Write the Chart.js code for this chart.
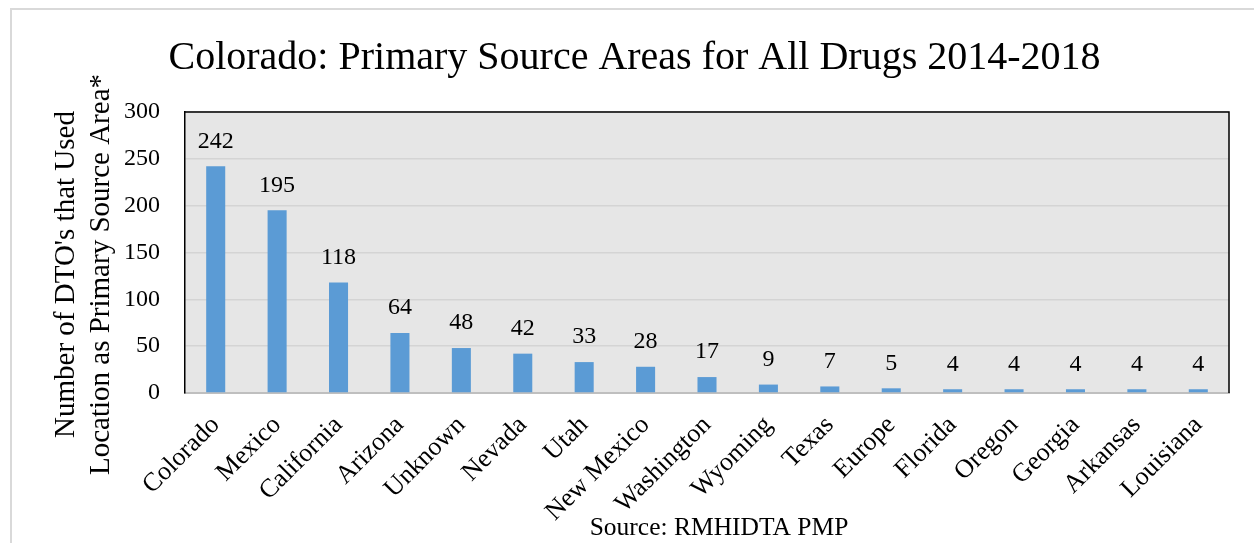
<!DOCTYPE html>
<html><head><meta charset="utf-8">
<script src="https://cdn.jsdelivr.net/npm/chart.js@4/dist/chart.umd.min.js"></script>
<style>
html,body{margin:0;padding:0;background:#fff;overflow:hidden;width:1254px;height:543px}
#frame{position:absolute;left:10px;top:8px;width:1400px;height:700px;border:2px solid #d9d9d9;box-sizing:border-box}
#wrap{position:absolute;left:0;top:0;width:1254px;height:543px}
</style></head><body>
<div id="frame"></div>
<div id="wrap"><canvas id="c"></canvas></div>
<script>
const categories = ["Colorado","Mexico","California","Arizona","Unknown","Nevada","Utah","New Mexico","Washington","Wyoming","Texas","Europe","Florida","Oregon","Georgia","Arkansas","Louisiana"];
const values = [242,195,118,64,48,42,33,28,17,9,7,5,4,4,4,4,4];
const yMin = 0, yMax = 300, yStep = 50;
const chartTitle = "Colorado: Primary Source Areas for All Drugs 2014-2018";
const yTitleLines = ["Number of DTO's that Used","Location as Primary Source Area*"];
const sourceNote = "Source: RMHIDTA PMP";

const SERIF = "'Liberation Serif', 'Times New Roman', serif";

const plotFrame = {
  id: 'plotFrame',
  beforeDraw(chart){
    const {ctx, chartArea:a} = chart;
    ctx.save();
    ctx.fillStyle = '#e6e6e6';
    ctx.fillRect(a.left, a.top, a.right - a.left, a.bottom - a.top);
    ctx.restore();
  },
  afterDraw(chart){
    const {ctx, chartArea:a} = chart;
    ctx.save();
    ctx.strokeStyle = '#000';
    ctx.lineWidth = 1.5;
    ctx.beginPath();
    ctx.moveTo(a.left, a.top);
    ctx.lineTo(a.right, a.top);
    ctx.lineTo(a.right, a.bottom);
    ctx.stroke();
    // y axis title (two lines)
    ctx.fillStyle = '#000';
    ctx.font = "29px " + SERIF;
    ctx.textAlign = 'center';
    ctx.textBaseline = 'middle';
    const cy = (a.top + a.bottom) / 2 + 22;
    [66, 101].forEach((x, i) => {
      ctx.save();
      ctx.translate(x, cy);
      ctx.rotate(-Math.PI / 2);
      ctx.fillText(yTitleLines[i], 0, 0);
      ctx.restore();
    });
    // source note
    ctx.font = "25.5px " + SERIF;
    ctx.textAlign = 'center';
    ctx.fillText(sourceNote, 719, 528);
    ctx.restore();
  }
};

const valueLabels = {
  id: 'valueLabels',
  afterDatasetsDraw(chart){
    const {ctx} = chart;
    const meta = chart.getDatasetMeta(0);
    ctx.save();
    ctx.fillStyle = '#000';
    ctx.font = "24px " + SERIF;
    ctx.textAlign = 'center';
    ctx.textBaseline = 'middle';
    meta.data.forEach((el, i) => {
      ctx.fillText(String(chart.data.datasets[0].data[i]), el.x, el.y - 25);
    });
    ctx.restore();
  }
};

new Chart(document.getElementById('c'), {
  type: 'bar',
  data: {
    labels: categories,
    datasets: [{
      data: values,
      backgroundColor: '#5b9bd5',
      borderWidth: 0,
      barPercentage: 0.31,
      categoryPercentage: 1
    }]
  },
  options: {
    responsive: true,
    maintainAspectRatio: false,
    animation: false,
    devicePixelRatio: 1,
    layout: { padding: { left: 40, right: 25, top: 0, bottom: 2 } },
    plugins: {
      legend: { display: false },
      tooltip: { enabled: false },
      title: {
        display: true,
        text: chartTitle,
        color: '#000',
        font: { family: SERIF, size: 40, weight: 'normal' },
        padding: { top: 34, bottom: 30 }
      }
    },
    scales: {
      x: {
        grid: { display: false, drawTicks: false },
        border: { display: true, color: '#bfbfbf', width: 2 },
        ticks: {
          color: '#000',
          font: { family: SERIF, size: 26 },
          minRotation: 45, maxRotation: 45,
          padding: 17,
          autoSkip: false
        },
        afterFit(s){ s.height = 148; }
      },
      y: {
        min: yMin, max: yMax,
        ticks: {
          stepSize: yStep,
          color: '#000',
          font: { family: SERIF, size: 24 },
          padding: 25
        },
        grid: { color: '#d4d4d4', lineWidth: 1.5, drawTicks: false },
        border: { display: true, color: '#000', width: 1.5 },
        afterFit(s){ s.width = 145; }
      }
    }
  },
  plugins: [plotFrame, valueLabels]
});
</script>
</body></html>
